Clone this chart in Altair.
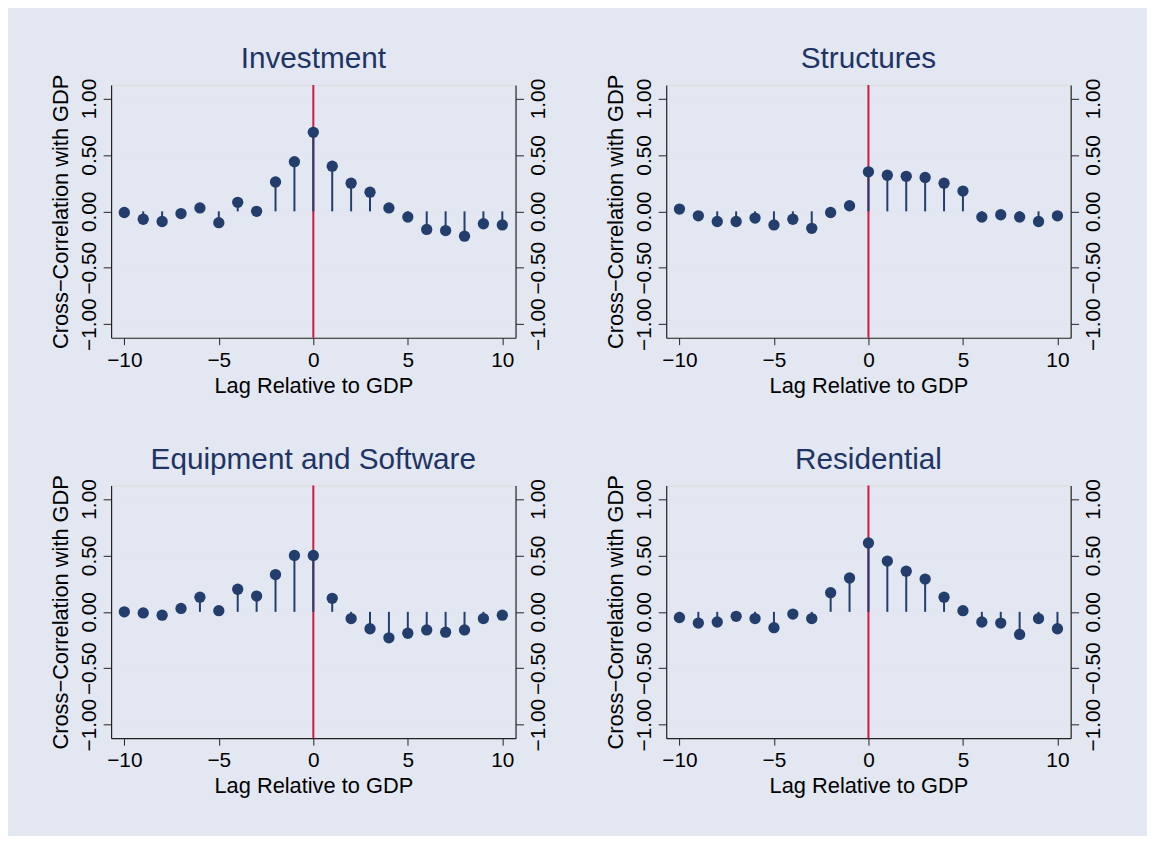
import altair as alt
import pandas as pd

# lag values and cross-correlations
lags = list(range(-10, 11))

investment = [-0.01, -0.07, -0.09, -0.02, 0.03, -0.10, 0.08, 0.00, 0.26, 0.44, 0.70,
              0.40, 0.25, 0.17, 0.03, -0.05, -0.16, -0.17, -0.22, -0.11, -0.12]
structures = [0.02, -0.04, -0.09, -0.09, -0.06, -0.12, -0.07, -0.15, -0.01, 0.05, 0.35,
              0.32, 0.31, 0.30, 0.25, 0.18, -0.05, -0.03, -0.05, -0.09, -0.04]
equipment = [0.00, -0.01, -0.03, 0.03, 0.13, 0.01, 0.20, 0.14, 0.33, 0.50, 0.50,
             0.12, -0.06, -0.15, -0.23, -0.19, -0.16, -0.18, -0.16, -0.06, -0.03]
residential = [-0.05, -0.10, -0.09, -0.04, -0.06, -0.14, -0.02, -0.06, 0.17, 0.30, 0.61,
               0.45, 0.36, 0.29, 0.13, 0.01, -0.09, -0.10, -0.20, -0.06, -0.15]

titles = ["Investment", "Structures", "Equipment and Software", "Residential"]
x_ticks = [-10, -5, 0, 5, 10]
y_ticks = [-1.0, -0.5, 0.0, 0.5, 1.0]

FONT = "Liberation Sans"
NAVY = "#233d6c"
RED = "#d0183f"
GRID = "#e1e6f0"
BG = "#e2e7f1"


def y_axis(orient: str) -> alt.Axis:
    left = orient == "left"
    return alt.Axis(
        orient=orient,
        values=y_ticks,
        format=".2f",
        grid=left,
        gridColor=GRID,
        gridWidth=1.6,
        labelAngle=270,
        labelAlign="center",
        labelBaseline="bottom" if left else "top",
        labelFont=FONT,
        labelFontSize=21,
        labelColor="black",
        labelPadding=4,
        tickSize=8,
        tickColor="#222222",
        domainColor="#222222",
        domainWidth=1.2,
        titleFont=FONT,
        titleFontSize=22,
        titleFontWeight="normal",
        titleColor="black",
        titlePadding=6,
    )


def panel(title: str, values: list[float]) -> alt.LayerChart:
    data = pd.DataFrame({"lag": lags, "corr": values})
    x_scale = alt.Scale(domain=[-10.7, 10.7], nice=False, zero=False)
    y_scale = alt.Scale(domain=[-1.12, 1.12], nice=False, zero=False)
    x = alt.X(
        "lag:Q",
        title="Lag Relative to GDP",
        scale=x_scale,
        axis=alt.Axis(
            values=x_ticks,
            format="d",
            grid=False,
            labelFont=FONT,
            labelFontSize=21,
            labelColor="black",
            labelPadding=5,
            tickSize=7,
            tickColor="#222222",
            domainColor="#222222",
            domainWidth=1.2,
            titleFont=FONT,
            titleFontSize=22,
            titleFontWeight="normal",
            titleColor="black",
            titlePadding=5,
        ),
    )
    base = alt.Chart(data)
    zero_line = (
        alt.Chart(pd.DataFrame({"lag": [0]}))
        .mark_rule(color=RED, strokeWidth=2)
        .encode(x=alt.X("lag:Q", scale=x_scale))
    )
    stems = base.mark_rule(color=NAVY, strokeWidth=2).encode(
        x=x,
        y=alt.Y("corr:Q", scale=y_scale, title="Cross−Correlation with GDP", axis=y_axis("left")),
        y2=alt.datum(0),
    )
    dots = base.mark_circle(size=130, color=NAVY, opacity=1).encode(x="lag:Q", y="corr:Q")
    right = base.mark_circle(opacity=0).encode(
        x="lag:Q",
        y=alt.Y("corr:Q", scale=y_scale, title=None, axis=y_axis("right")),
    )
    return (
        alt.layer(alt.layer(zero_line, stems, dots), right)
        .resolve_scale(y="independent")
        .properties(
            width=408,
            height=255,
            title=alt.TitleParams(
                text=title,
                font=FONT,
                fontSize=30,
                fontWeight="normal",
                color="#1f3464",
                anchor="middle",
                frame="group",
                offset=0,
            ),
        )
    )


series = [investment, structures, equipment, residential]
panels = [panel(t, v) for t, v in zip(titles, series)]

chart = (
    alt.vconcat(
        alt.hconcat(panels[0], panels[1], spacing=55),
        alt.hconcat(panels[2], panels[3], spacing=55),
        spacing=47,
    )
    .properties(padding={"left": 41, "top": 32, "right": 43, "bottom": 35})
    .configure_view(fill="white", stroke="transparent")
    .configure(background=BG)
)

chart.save("out.html", embed_options={"renderer": "svg", "actions": False})
